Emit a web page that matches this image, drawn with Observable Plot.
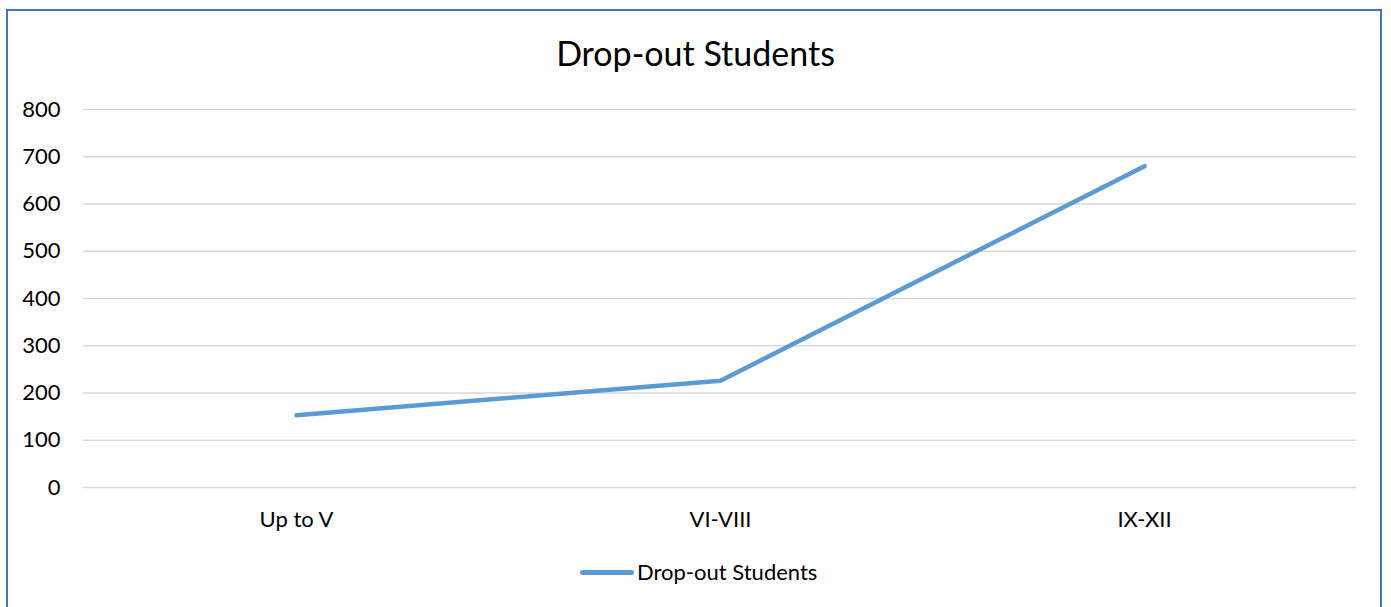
<!DOCTYPE html>
<html>
<head>
<meta charset="utf-8">
<script src="https://cdn.jsdelivr.net/npm/d3@7"></script>
<script src="https://cdn.jsdelivr.net/npm/@observablehq/plot@0.6"></script>
<style>
  html, body { margin: 0; padding: 0; background: #fff; }
  #wrap { position: relative; width: 1391px; height: 607px; overflow: hidden; font-family: Lato, "Open Sans", sans-serif; color: #000; }
  #frame { position: absolute; left: 6px; top: 9px; width: 1376px; height: 620px; border: 2px solid #4472C4; border-bottom: none; box-sizing: border-box; }
  #title { position: absolute; left: 0; width: 1391px; top: 33px; text-align: center; font-size: 34px; line-height: 40px; }
  #chart { position: absolute; left: 0; top: 90px; }
  #chart svg { overflow: visible; }
  #legend { position: absolute; top: 558px; left: 580px; display: flex; align-items: center; font-size: 22px; line-height: 28px; }
  #legend .swatch { width: 54px; height: 5px; background: #5B9BD5; border-radius: 3px; margin-right: 3px; }
</style>
</head>
<body>
<div id="wrap">
  <div id="frame"></div>
  <div id="title">Drop-out Students</div>
  <div id="chart"></div>
  <div id="legend"><div class="swatch"></div><span>Drop-out Students</span></div>
</div>
<script>
const categories = ["Up to V", "VI-VIII", "IX-XII"];
const dropouts = [153, 226, 680];
const yTicks = [0, 100, 200, 300, 400, 500, 600, 700, 800];
const seriesName = "Drop-out Students";

const data = categories.map((c, i) => ({category: c, value: dropouts[i]}));

const chart = Plot.plot({
  width: 1391,
  height: 460,
  marginTop: 19,
  marginBottom: 63,
  marginLeft: 83,
  marginRight: 35,
  style: {fontFamily: "Lato, 'Open Sans', sans-serif", fontSize: "22px", color: "#000", background: "transparent"},
  x: {type: "point", domain: categories, padding: 0.5, label: null},
  y: {domain: [0, 800], ticks: yTicks, label: null},
  marks: [
    Plot.gridY(yTicks, {stroke: "#d9d9d9", strokeOpacity: 1, strokeWidth: 1.5}),
    Plot.axisY(yTicks, {tickSize: 0, tickPadding: 23, label: null, fill: "#000"}),
    Plot.axisX({tickSize: 0, tickPadding: 24, label: null, fill: "#000"}),
    Plot.line(data, {x: "category", y: "value", stroke: "#5B9BD5", strokeWidth: 4.5, strokeLinecap: "round", strokeLinejoin: "round"})
  ]
});
document.getElementById("chart").appendChild(chart);
</script>
</body>
</html>
